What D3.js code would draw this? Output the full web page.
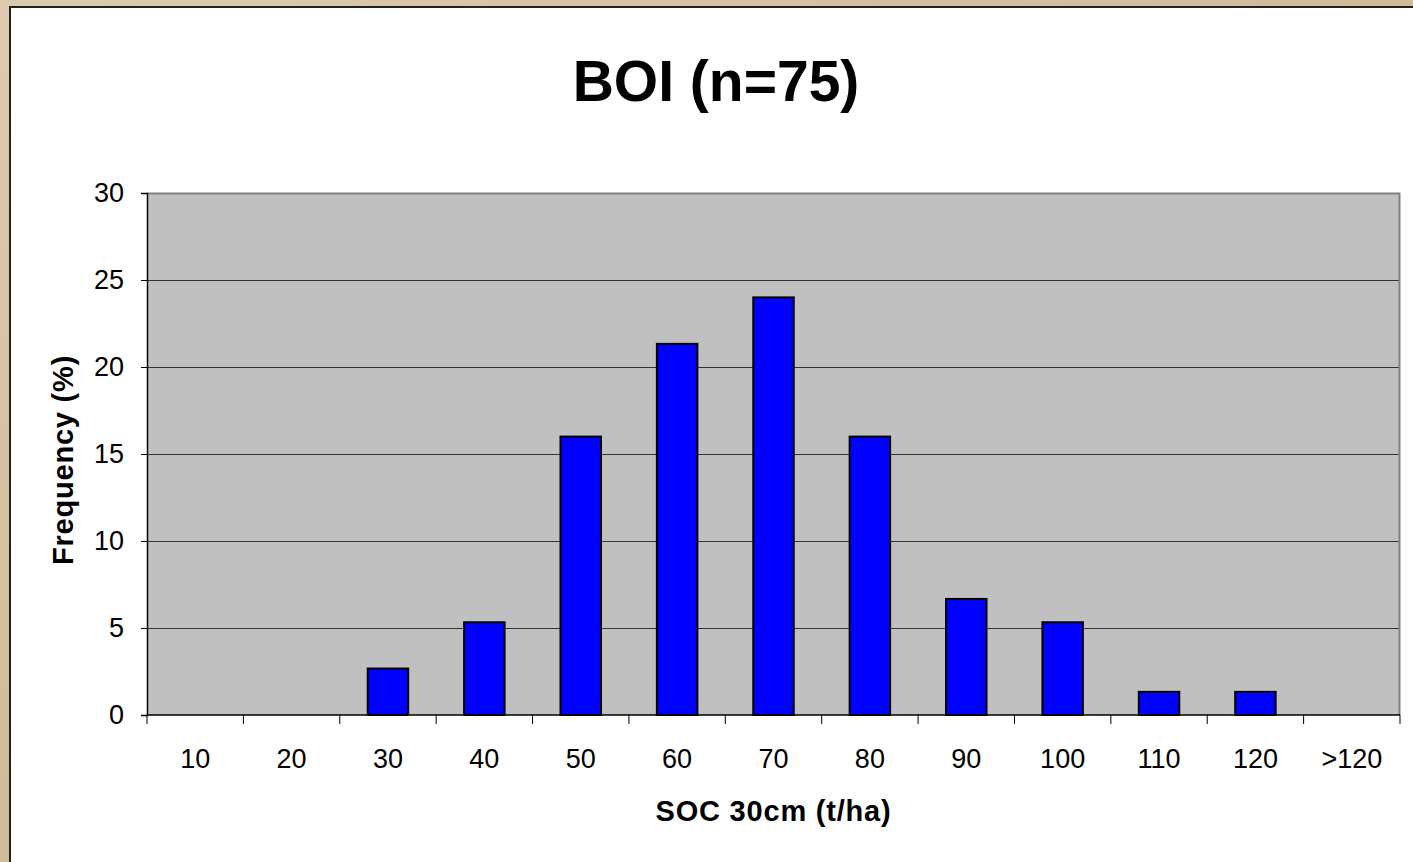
<!DOCTYPE html>
<html>
<head>
<meta charset="utf-8">
<script src="https://cdn.jsdelivr.net/npm/d3@7"></script>
<style>
  body { margin: 0; background: #d8c6a6; }
  svg { display: block; }
  text { font-family: "Liberation Sans", Arial, sans-serif; fill: #000; }
</style>
</head>
<body>
<div id="chart"></div>
<script>
// histogram of SOC, n=75
var w = 1413, h = 862;
var categories = ["10", "20", "30", "40", "50", "60", "70", "80", "90", "100", "110", "120", ">120"];
var frequency = [0, 0, 2.67, 5.33, 16, 21.33, 24, 16, 6.67, 5.33, 1.33, 1.33, 0];
var yTicks = [0, 5, 10, 15, 20, 25, 30];

var plot = {left: 147, top: 193, right: 1400, bottom: 715};

var svg = d3.select("#chart")
    .append("svg")
    .attr("width", w)
    .attr("height", h);

// marble-ish backdrop
var defs = svg.append("defs");
var grad = defs.append("linearGradient").attr("id", "bg").attr("x1", 0).attr("y1", 0).attr("x2", 1).attr("y2", 1);
grad.append("stop").attr("offset", "0%").attr("stop-color", "#dccbae");
grad.append("stop").attr("offset", "50%").attr("stop-color", "#cfbb98");
grad.append("stop").attr("offset", "100%").attr("stop-color", "#e0d0b4");
svg.append("rect").attr("width", w).attr("height", h).attr("fill", "url(#bg)");

// white panel
svg.append("rect")
    .attr("x", 10).attr("y", 7)
    .attr("width", w).attr("height", h)
    .attr("fill", "#fff")
    .attr("stroke", "#222")
    .attr("stroke-width", 2);

var x = d3.scaleBand()
    .domain(categories)
    .range([plot.left, plot.right])
    .paddingInner(0)
    .paddingOuter(0);

var y = d3.scaleLinear()
    .domain([0, 30])
    .range([plot.bottom, plot.top]);

// plot area
svg.append("rect")
    .attr("x", plot.left).attr("y", plot.top)
    .attr("width", plot.right - plot.left)
    .attr("height", plot.bottom - plot.top)
    .attr("fill", "#c0c0c0");

// gridlines
svg.append("g")
    .selectAll("line")
    .data(yTicks.filter(function(d) { return d > 0 && d < 30; }))
    .enter()
    .append("line")
    .attr("x1", plot.left).attr("x2", plot.right)
    .attr("y1", function(d) { return y(d) + 0.5; })
    .attr("y2", function(d) { return y(d) + 0.5; })
    .attr("stroke", "#333")
    .attr("stroke-width", 1);

// plot border top/right
svg.append("path")
    .attr("d", "M" + plot.left + "," + (plot.top + 0.5) + "H" + (plot.right - 0.5) + "V" + plot.bottom)
    .attr("fill", "none")
    .attr("stroke", "#808080")
    .attr("stroke-width", 2);

// bars
var bars = categories.map(function(c, i) { return {cat: c, value: frequency[i]}; })
    .filter(function(d) { return d.value > 0; });
var bw = x.bandwidth() * 0.42;
svg.append("g")
    .selectAll("rect")
    .data(bars)
    .enter()
    .append("rect")
    .attr("x", function(d) { return x(d.cat) + (x.bandwidth() - bw) / 2; })
    .attr("y", function(d) { return y(d.value); })
    .attr("width", bw)
    .attr("height", function(d) { return plot.bottom - y(d.value); })
    .attr("fill", "#0000ff")
    .attr("stroke", "#000")
    .attr("stroke-width", 2);

// y axis
var yAxis = svg.append("g")
    .attr("transform", "translate(" + plot.left + ",0)")
    .call(d3.axisLeft(y).tickValues(yTicks).tickSize(6).tickPadding(17));
yAxis.select(".domain").attr("stroke", "#000").attr("stroke-width", 1.5);
yAxis.selectAll(".tick line").attr("stroke", "#000");
yAxis.selectAll("text").attr("font-size", 27).attr("font-family", "Liberation Sans, Arial, sans-serif");

// x axis, ticks at band edges
var xAxis = svg.append("g")
    .attr("transform", "translate(0," + plot.bottom + ")");
xAxis.append("line")
    .attr("x1", plot.left).attr("x2", plot.right)
    .attr("stroke", "#000").attr("stroke-width", 1.5);
xAxis.selectAll(".edge")
    .data(categories.concat(["end"]))
    .enter()
    .append("line")
    .attr("class", "edge")
    .attr("x1", function(d, i) { return i < categories.length ? x(d) : plot.right; })
    .attr("x2", function(d, i) { return i < categories.length ? x(d) : plot.right; })
    .attr("y1", 0).attr("y2", 9)
    .attr("stroke", "#000");
xAxis.selectAll(".lbl")
    .data(categories)
    .enter()
    .append("text")
    .attr("class", "lbl")
    .attr("x", function(d) { return x(d) + x.bandwidth() / 2; })
    .attr("y", 53)
    .attr("text-anchor", "middle")
    .attr("font-size", 27)
    .text(function(d) { return d; });

// titles
svg.append("text")
    .attr("x", 716).attr("y", 101)
    .attr("text-anchor", "middle")
    .attr("font-size", 57)
    .attr("font-weight", "bold")
    .text("BOI (n=75)");

svg.append("text")
    .attr("x", (plot.left + plot.right) / 2).attr("y", 821)
    .attr("text-anchor", "middle")
    .attr("font-size", 29)
    .attr("font-weight", "bold")
    .attr("letter-spacing", 0.8)
    .text("SOC 30cm  (t/ha)");

svg.append("text")
    .attr("transform", "translate(73,460) rotate(-90)")
    .attr("text-anchor", "middle")
    .attr("font-size", 29)
    .attr("font-weight", "bold")
    .attr("letter-spacing", 0.8)
    .text("Frequency (%)");
</script>
</body>
</html>
